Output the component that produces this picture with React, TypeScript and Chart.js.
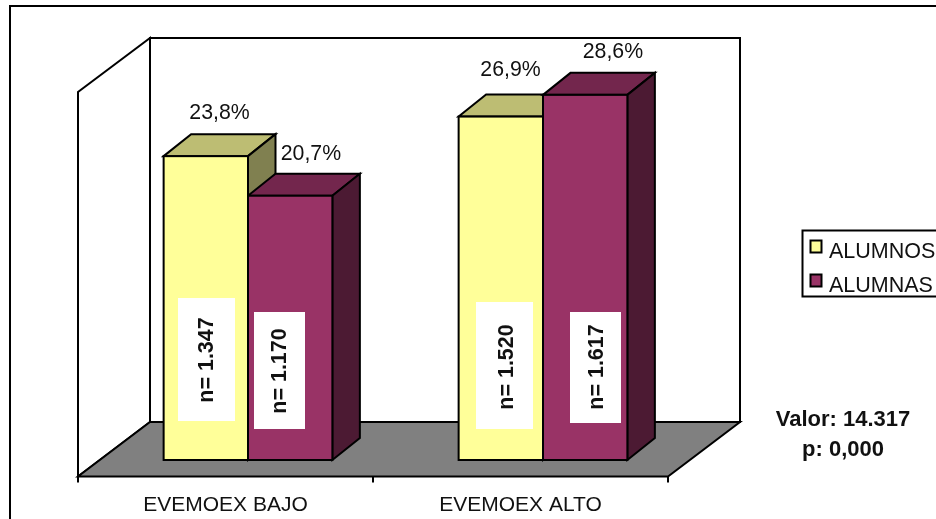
import React, { useEffect, useRef } from "react";
import { Chart, registerables } from "chart.js";

Chart.register(...registerables);

const categories = ["EVEMOEX BAJO", "EVEMOEX ALTO"];
const alumnos = [23.8, 26.9];
const alumnas = [20.7, 28.6];
const alumnosN = ["n= 1.347", "n= 1.520"];
const alumnasN = ["n= 1.170", "n= 1.617"];
const seriesNames = ["ALUMNOS", "ALUMNAS"];
const statLines = ["Valor: 14.317", "p: 0,000"];

const FONT = "'Liberation Sans', Arial, sans-serif";
const TEXT = "#111";
const FRONT = ["#FFFF99", "#993366"];
const TOP = ["#BDBD73", "#73264D"];
const SIDE = ["#808050", "#4C1A33"];

// hand-placed annotation offsets, [dataset][category]
const labelOffset = [
  [[0, -21.5], [-4, -24]],
  [[7, -20], [14, -21]],
];
const noteBox = [
  [[178, 298, 57, 123], [476, 302, 57, 127]],
  [[254, 312, 51, 117], [570, 312, 51, 111]],
];
const noteCenter = [
  [[206, 360], [506, 367]],
  [[279, 371], [596, 367]],
];

const BAR_DX = 27.5;
const BAR_DY = 22;

function poly(ctx: CanvasRenderingContext2D, pts: number[][], fill: string | null) {
  ctx.beginPath();
  pts.forEach((p, i) => (i ? ctx.lineTo(p[0], p[1]) : ctx.moveTo(p[0], p[1])));
  ctx.closePath();
  if (fill) {
    ctx.fillStyle = fill;
    ctx.fill();
  }
  ctx.stroke();
}

const frame3d = {
  id: "frame3d",
  beforeDatasetsDraw(chart: any) {
    const { ctx, scales } = chart;
    const x = scales.x;
    const y = scales.y;
    const y0 = y.getPixelForValue(0);
    const yMax = y.getPixelForValue(30);
    const fl = x.left - 22.5;
    const fr = x.right - 22.5;
    const bl = fl + 72;
    const br = fr + 72;
    const floorFront = y0 + 16.5;
    const floorBack = y0 - 38;
    const wallTop = yMax - 39;
    ctx.save();
    ctx.strokeStyle = "#000";
    ctx.lineWidth = 2;
    ctx.lineJoin = "miter";
    // chart area border
    ctx.beginPath();
    ctx.moveTo(10, 519);
    ctx.lineTo(10, 6);
    ctx.lineTo(936, 6);
    ctx.stroke();
    // walls
    poly(ctx, [[bl, wallTop], [br, wallTop], [br, floorBack], [bl, floorBack]], "#fff");
    poly(ctx, [[fl, floorFront], [fl, wallTop + 54], [bl, wallTop], [bl, floorBack]], "#fff");
    // floor
    poly(ctx, [[fl, floorFront], [fr, floorFront], [br, floorBack], [bl, floorBack]], "#808080");
    // ticks
    const step = (x.right - x.left) / categories.length;
    for (let i = 0; i <= categories.length; i++) {
      const tx = fl + i * step;
      ctx.beginPath();
      ctx.moveTo(tx, floorFront);
      ctx.lineTo(tx, floorFront + 6);
      ctx.stroke();
    }
    // top and side faces of the bars
    for (let c = 0; c < categories.length; c++) {
      for (let d = 0; d < 2; d++) {
        const el = chart.getDatasetMeta(d).data[c];
        const l = el.x - el.width / 2;
        const r = el.x + el.width / 2;
        const t = el.y;
        const b = el.base;
        poly(ctx, [[l, t], [l + BAR_DX, t - BAR_DY], [r + BAR_DX, t - BAR_DY], [r, t]], TOP[d]);
        poly(ctx, [[r, t], [r + BAR_DX, t - BAR_DY], [r + BAR_DX, b - BAR_DY], [r, b]], SIDE[d]);
      }
    }
    ctx.restore();
  },
  afterDatasetsDraw(chart: any) {
    const { ctx } = chart;
    const notes = [alumnosN, alumnasN];
    ctx.save();
    // outlines of the front faces: a single line between touching bars
    ctx.strokeStyle = "#000";
    ctx.lineWidth = 2;
    for (let d = 0; d < 2; d++) {
      chart.getDatasetMeta(d).data.forEach((el: any) => {
        ctx.strokeRect(el.x - el.width / 2, el.y, el.width, el.base - el.y);
      });
    }
    for (let d = 0; d < 2; d++) {
      const meta = chart.getDatasetMeta(d);
      const values = chart.data.datasets[d].data;
      for (let c = 0; c < categories.length; c++) {
        const el = meta.data[c];
        // value label
        ctx.fillStyle = TEXT;
        ctx.font = `21.3px ${FONT}`;
        ctx.textAlign = "center";
        ctx.textBaseline = "middle";
        const lx = el.x + BAR_DX / 2 + labelOffset[d][c][0];
        const ly = el.y - BAR_DY + labelOffset[d][c][1];
        ctx.fillText(values[c].toFixed(1).replace(".", ",") + "%", lx, ly);
        // white note box with vertical text
        const bx = noteBox[d][c];
        ctx.fillStyle = "#fff";
        ctx.fillRect(bx[0], bx[1], bx[2], bx[3]);
        ctx.save();
        ctx.translate(noteCenter[d][c][0], noteCenter[d][c][1]);
        ctx.rotate(-Math.PI / 2);
        ctx.fillStyle = TEXT;
        ctx.font = `bold 21.5px ${FONT}`;
        ctx.fillText(notes[d][c], 0, 1);
        ctx.restore();
      }
    }
    // legend
    ctx.strokeStyle = "#000";
    ctx.lineWidth = 2;
    ctx.fillStyle = "#fff";
    ctx.strokeRect(802.5, 230.5, 150, 66);
    ctx.font = `21.5px ${FONT}`;
    ctx.textAlign = "left";
    ctx.textBaseline = "middle";
    seriesNames.forEach((name, i) => {
      const cy = 246.5 + i * 34;
      ctx.fillStyle = FRONT[i];
      ctx.fillRect(810.5, cy - 6, 11, 12);
      ctx.strokeRect(810.5, cy - 6, 11, 12);
      ctx.fillStyle = TEXT;
      ctx.fillText(name, 829, cy + 5.5);
    });
    // statistics
    ctx.font = `bold 22px ${FONT}`;
    ctx.textAlign = "center";
    statLines.forEach((line, i) => ctx.fillText(line, 843, 420 + i * 30));
    ctx.restore();
  },
};

export default function App() {
  const ref = useRef<HTMLCanvasElement>(null);
  useEffect(() => {
    const chart = new Chart(ref.current as HTMLCanvasElement, {
      type: "bar",
      plugins: [frame3d],
      data: {
        labels: categories,
        datasets: [
          { label: seriesNames[0], data: alumnos, backgroundColor: FRONT[0], borderWidth: 0 },
          { label: seriesNames[1], data: alumnas, backgroundColor: FRONT[1], borderWidth: 0 },
        ],
      },
      options: {
        responsive: false,
        animation: false,
        layout: { padding: { left: 100.5, right: 245.5, top: 77, bottom: 0 } },
        plugins: { legend: { display: false }, tooltip: { enabled: false }, title: { display: false } },
        datasets: { bar: { categoryPercentage: 0.572, barPercentage: 1 } },
        scales: {
          x: {
            grid: { display: false },
            border: { display: false },
            afterFit: (s: any) => { s.height = 59; },
            ticks: {
              autoSkip: false,
              maxRotation: 0,
              labelOffset: -22.5,
              padding: 25,
              color: TEXT,
              font: { family: FONT, size: 21 },
            },
          },
          y: { display: false, min: 0, max: 30 },
        },
      },
    } as any);
    return () => chart.destroy();
  }, []);
  return (
    <div style={{ position: "absolute", left: 0, top: 0, width: 936, height: 519, overflow: "hidden", background: "#fff" }}>
      <canvas ref={ref} width={936} height={519} style={{ display: "block" }} />
    </div>
  );
}
